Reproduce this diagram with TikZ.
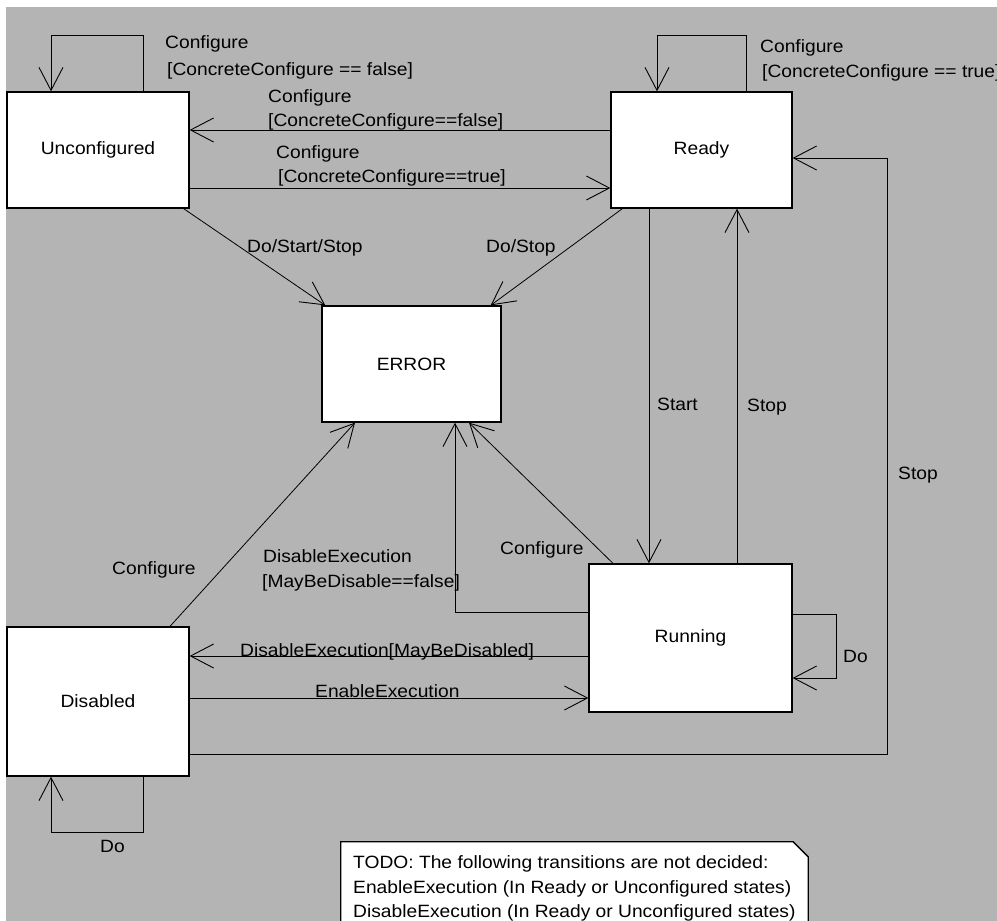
\documentclass[tikz,border=0pt]{standalone}
\usepackage{fontspec}
\setmainfont[FakeStretch=1.08]{Liberation Sans}
\usetikzlibrary{arrows.meta}
\definecolor{canvasgray}{RGB}{180,180,180}
\begin{document}
\begin{tikzpicture}[x=1pt,y=-1pt,
  txt/.style={font=\fontsize{17.8pt}{21pt}\selectfont},
  state/.style={txt, draw=black, line width=1.3pt, fill=white, rectangle, inner sep=0pt},
  tr/.style={draw=black, line width=1pt,
    -{Straight Barb[length=23pt,width=24pt,line width=0.9pt]}},
  diag/.style={tr, line width=0.8pt},
  lbl/.style={txt, anchor=base west, inner sep=0pt},
]
% canvas
\useasboundingbox (0,0) rectangle (997,921);
\fill[white] (0,0) rectangle (997,921);
\fill[canvasgray] (6,7) rectangle (997,921);

% states
\node[state, minimum width=182pt, minimum height=116pt] (unconf)   at (98,150)    {Unconfigured};
\node[state, minimum width=181pt, minimum height=116pt] (ready)    at (701.5,150) {Ready};
\node[state, minimum width=179pt, minimum height=116pt] (error)    at (411.5,364) {ERROR};
\node[state, minimum width=203pt, minimum height=148pt] (running)  at (690.5,638) {Running};
\node[state, minimum width=182pt, minimum height=149pt] (disabled) at (98,701.5)  {Disabled};

% transitions
\draw[tr] ([xshift=45pt]unconf.north) -- ++(0,-56) -| ([xshift=-47pt]unconf.north);
\draw[tr] ([xshift=44.5pt]ready.north) -- ++(0,-56) -| ([xshift=-44.5pt]ready.north);
\draw[tr] ([yshift=20pt]ready.west) -- ([yshift=20pt]unconf.east);
\draw[tr] ([yshift=-38pt]unconf.east) -- ([yshift=-38pt]ready.west);
\draw[diag] ([xshift=-6pt]unconf.south east) -- ([xshift=4pt]error.north west);
\draw[diag] ([xshift=12pt]ready.south west) -- ([xshift=-11pt]error.north east);
\draw[tr] ([xshift=-52.5pt]ready.south) -- ([xshift=-41.5pt]running.north);
\draw[tr] ([xshift=46.5pt]running.north) -- ([xshift=35.5pt]ready.south);
\draw[tr] ([yshift=-52.5pt]disabled.east) -- ++(698,0) |- ([yshift=-8pt]ready.east);
\draw[tr] ([yshift=24pt]running.east) -- ++(44,0) |- ([yshift=-40pt]running.east);
\draw[tr] ([yshift=-18pt]running.west) -- ([yshift=45.5pt]disabled.east);
\draw[tr] ([yshift=3.5pt]disabled.east) -- ([yshift=-60pt]running.west);
\draw[tr] ([xshift=45pt]disabled.south) -- ++(0,56) -| ([xshift=-47pt]disabled.south);
\draw[diag] ([xshift=72pt]disabled.north) -- ([xshift=-56.5pt]error.south);
\draw[tr] ([yshift=26pt]running.west) -| ([xshift=43.5pt]error.south);
\draw[diag] ([xshift=-77.5pt]running.north) -- ([xshift=57.5pt]error.south);

% transition labels
\node[lbl] (l1a) at (165,48)  {Configure};
\node[lbl] (l1b) at (167,75)  {[ConcreteConfigure == false]};
\node[lbl] (l2a) at (760,52)  {Configure};
\node[lbl] (l2b) at (762,77)  {[ConcreteConfigure == true]};
\node[lbl] (l3a) at (268,102) {Configure};
\node[lbl] (l3b) at (268,126) {[ConcreteConfigure==false]};
\node[lbl] (l4a) at (276,158) {Configure};
\node[lbl] (l4b) at (278,182) {[ConcreteConfigure==true]};
\node[lbl] (l5)  at (247,252) {Do/Start/Stop};
\node[lbl] (l6)  at (486,252) {Do/Stop};
\node[lbl] (l7)  at (657,410) {Start};
\node[lbl] (l8)  at (747,411) {Stop};
\node[lbl] (l9)  at (898,479) {Stop};
\node[lbl] (l10) at (500,554) {Configure};
\node[lbl] (l11a) at (263,562) {DisableExecution};
\node[lbl] (l11b) at (262,587) {[MayBeDisable==false]};
\node[lbl] (l12) at (112,574) {Configure};
\node[lbl] (l13) at (240,656) {DisableExecution[MayBeDisabled]};
\node[lbl] (l14) at (315,697) {EnableExecution};
\node[lbl] (l15) at (843,662) {Do};
\node[lbl] (l16) at (100,852) {Do};

% note with folded corner
\node[minimum width=467pt, minimum height=93pt, inner sep=0pt] (note) at (574.5,888.5) {};
\filldraw[fill=white, draw=black, line width=1.3pt]
  (note.south west) -- (note.north west) -- ([xshift=-15pt]note.north east)
  -- ([yshift=-15pt]note.north east) -- (note.south east);
\node[lbl] (n1) at (353,868) {TODO: The following transitions are not decided:};
\node[lbl] (n2) at (353,893) {EnableExecution (In Ready or Unconfigured states)};
\node[lbl] (n3) at (353,917) {DisableExecution (In Ready or Unconfigured states)};
\end{tikzpicture}
\end{document}
